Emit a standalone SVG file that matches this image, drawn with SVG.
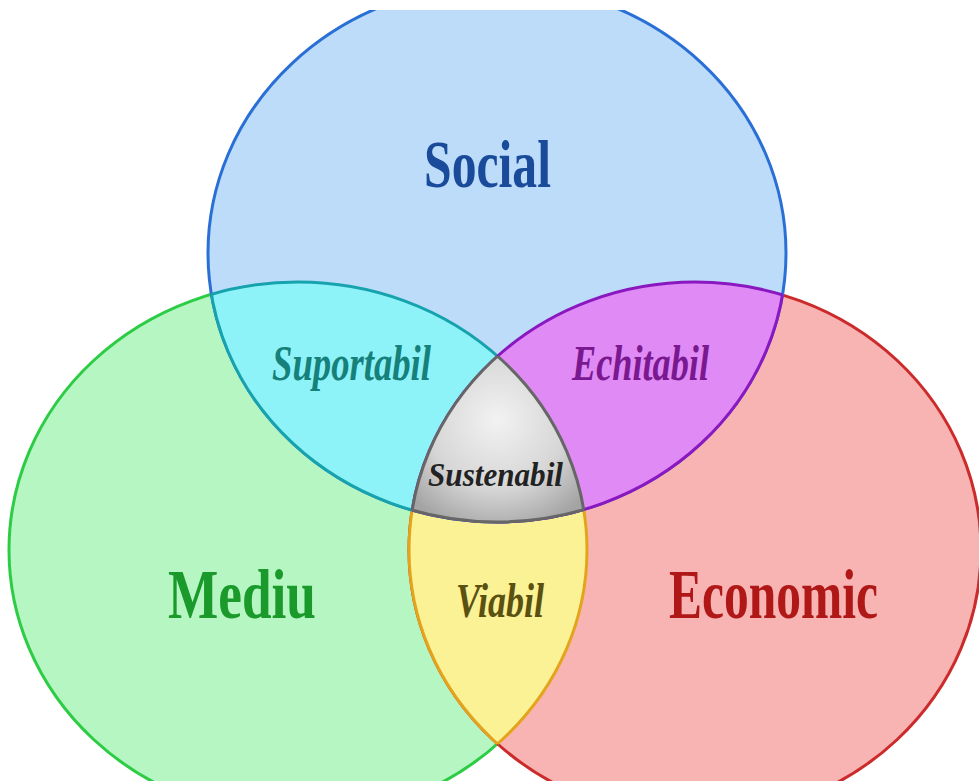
<svg xmlns="http://www.w3.org/2000/svg" width="979" height="781" viewBox="0 0 979 781">
<style>
.main{font-family:"Liberation Serif","Times New Roman",serif;font-weight:bold;}
.sub{font-family:"Liberation Serif","Times New Roman",serif;font-style:italic;font-weight:bold;}
.sw{stroke-width:3;}
</style>
<defs>
<clipPath id="page"><rect x="0" y="10" width="979" height="771"/></clipPath>
<clipPath id="cS"><ellipse cx="497" cy="253" rx="289" ry="269"/></clipPath>
<clipPath id="cM"><ellipse cx="298" cy="550" rx="289" ry="268"/></clipPath>
<clipPath id="cE"><ellipse cx="695" cy="550" rx="286" ry="268"/></clipPath>
<radialGradient id="gray" cx="497" cy="420" r="115" gradientUnits="userSpaceOnUse">
<stop offset="0" stop-color="#f2f2f2"/>
<stop offset="0.6" stop-color="#d6d6d6"/>
<stop offset="1" stop-color="#a4a4a4"/>
</radialGradient>
</defs>
<rect width="979" height="781" fill="#ffffff"/>
<g clip-path="url(#page)">
<g id="mediu">
<ellipse cx="298" cy="550" rx="289" ry="268" fill="#b5f6c3" stroke="#2ccc44" class="sw"/>
</g>
<g id="economic">
<ellipse cx="695" cy="550" rx="286" ry="268" fill="#f8b3b3" stroke="#cc2b2b" class="sw"/>
</g>
<g id="social">
<ellipse cx="497" cy="253" rx="289" ry="269" fill="#bcdcfa" stroke="#2a6fd6" class="sw"/>
</g>
<g id="viabil-region">
<g clip-path="url(#cM)"><ellipse cx="695" cy="550" rx="286" ry="268" fill="#fbf195" stroke="#e3a41b" class="sw"/></g>
<g clip-path="url(#cE)"><ellipse cx="298" cy="550" rx="289" ry="268" fill="none" stroke="#e3a41b" class="sw"/></g>
</g>
<g id="suportabil-region">
<g clip-path="url(#cS)"><ellipse cx="298" cy="550" rx="289" ry="268" fill="#8ef3f8" stroke="#17a3ad" class="sw"/></g>
<g clip-path="url(#cM)"><ellipse cx="497" cy="253" rx="289" ry="269" fill="none" stroke="#17a3ad" class="sw"/></g>
</g>
<g id="echitabil-region">
<g clip-path="url(#cS)"><ellipse cx="695" cy="550" rx="286" ry="268" fill="#e08af5" stroke="#8a17c0" class="sw"/></g>
<g clip-path="url(#cE)"><ellipse cx="497" cy="253" rx="289" ry="269" fill="none" stroke="#8a17c0" class="sw"/></g>
</g>
<g id="sustenabil-region">
<g clip-path="url(#cS)"><g clip-path="url(#cM)"><ellipse cx="695" cy="550" rx="286" ry="268" fill="url(#gray)" stroke="#666666" class="sw"/></g></g>
<g clip-path="url(#cS)"><g clip-path="url(#cE)"><ellipse cx="298" cy="550" rx="289" ry="268" fill="none" stroke="#666666" class="sw"/></g></g>
<g clip-path="url(#cM)"><g clip-path="url(#cE)"><ellipse cx="497" cy="253" rx="289" ry="269" fill="none" stroke="#666666" class="sw"/></g></g>
</g>
</g>
<g id="labels">
<text class="main" x="424" y="187" font-size="68" fill="#1a4a9a" textLength="127" lengthAdjust="spacingAndGlyphs">Social</text>
<text class="main" x="168" y="618" font-size="70" fill="#1a9a2a" textLength="148" lengthAdjust="spacingAndGlyphs">Mediu</text>
<text class="main" x="669" y="618" font-size="70" fill="#b01818" textLength="209" lengthAdjust="spacingAndGlyphs">Economic</text>
<text class="sub" x="272" y="380" font-size="50" fill="#16807a" textLength="159" lengthAdjust="spacingAndGlyphs">Suportabil</text>
<text class="sub" x="572" y="380" font-size="50" fill="#7a1890" textLength="137" lengthAdjust="spacingAndGlyphs">Echitabil</text>
<text class="sub" x="428" y="486" font-size="34" fill="#222222" textLength="135" lengthAdjust="spacingAndGlyphs">Sustenabil</text>
<text class="sub" x="456" y="617" font-size="48" fill="#5a5010" textLength="88" lengthAdjust="spacingAndGlyphs">Viabil</text>
</g>
</svg>
